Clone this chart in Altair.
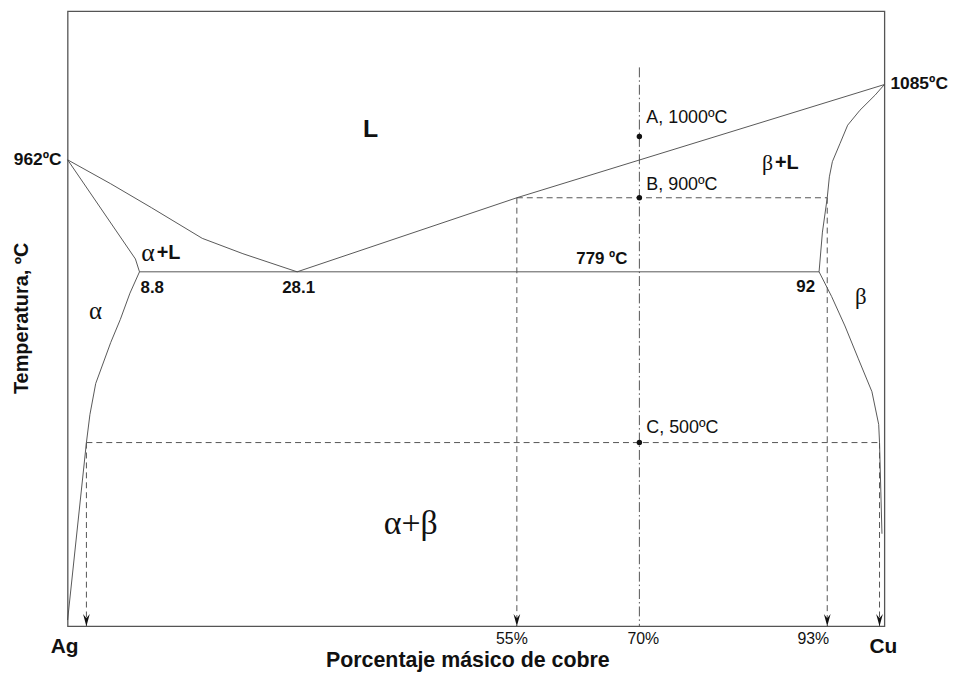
import altair as alt
import pandas as pd

# ---------------- data (x = % Cu by mass, T = degrees C) ----------------
alpha_solidus_x = [0, 8.3, 8.8]
alpha_solidus_T = [962, 800, 779]

liquidus_left_x = [0, 5.27, 10.25, 16.48, 21.46, 28.1]
liquidus_left_T = [962, 922.9, 883.9, 833.7, 808.6, 779]

liquidus_right_x = [28.1, 55, 100]
liquidus_right_T = [779, 900, 1085]

beta_solidus_x = [92, 92.41, 93, 93.26, 93.63, 94.57, 95.5, 97.0, 98.88, 100]
beta_solidus_T = [779, 843.9, 900, 934.2, 959, 988.9, 1018.6, 1043, 1068, 1085]

alpha_solvus_x = [8.8, 7.63, 6.45, 5.28, 3.44, 2.73, 2.3, 0]
alpha_solvus_T = [779, 744.1, 701.1, 663.6, 596.5, 545.7, 500, 210]

beta_solvus_x = [92, 93.53, 95.17, 96.81, 98.47, 99.3, 99.4, 99.7]
beta_solvus_T = [779, 738.8, 690.5, 636.8, 583.2, 529.6, 500, 351]

eutectic_x = [8.8, 92]
eutectic_T = [779, 779]

# dashed construction lines (start, end)
dashed_x = [[55, 93], [55, 55], [93, 93], [2.3, 99.4], [2.3, 2.3], [99.4, 99.4]]
dashed_T = [[900, 900], [900, 200], [900, 200], [500, 500], [500, 200], [500, 200]]

# dash-dot composition line at 70 % Cu
dashdot_x = [70, 70]
dashdot_T = [1113, 200]

arrow_x = [2.3, 55, 93, 99.4]
arrow_T = [200, 200, 200, 200]

point_x = [70, 70, 70]
point_T = [1000, 900, 500]
point_lbl = ["A, 1000ºC", "B, 900ºC", "C, 500ºC"]

X_DOMAIN = [0, 100]
T_DOMAIN = [200, 1205]

# ---------------- build ----------------
curves = []
for name, xs, ts in [
    ("alpha_solidus", alpha_solidus_x, alpha_solidus_T),
    ("liq_left", liquidus_left_x, liquidus_left_T),
    ("liq_right", liquidus_right_x, liquidus_right_T),
    ("beta_solidus", beta_solidus_x, beta_solidus_T),
    ("alpha_solvus", alpha_solvus_x, alpha_solvus_T),
    ("beta_solvus", beta_solvus_x, beta_solvus_T),
    ("eutectic", eutectic_x, eutectic_T),
]:
    for i, (x, t) in enumerate(zip(xs, ts)):
        curves.append({"x": x, "T": t, "c": name, "o": i})
curves_df = pd.DataFrame(curves)

dash_rows = []
for k, (xs, ts) in enumerate(zip(dashed_x, dashed_T)):
    for i, (x, t) in enumerate(zip(xs, ts)):
        dash_rows.append({"x": x, "T": t, "c": f"d{k}", "o": i})
dash_df = pd.DataFrame(dash_rows)

dd_df = pd.DataFrame({"x": dashdot_x, "T": dashdot_T, "o": [0, 1]})
arrow_df = pd.DataFrame({"x": arrow_x, "T": arrow_T})
pts_df = pd.DataFrame({"x": point_x, "T": point_T, "t": point_lbl})

xs = alt.Scale(domain=X_DOMAIN, nice=False, zero=False)
ys = alt.Scale(domain=T_DOMAIN, nice=False, zero=False)
X = alt.X("x:Q", scale=xs, axis=None)
Y = alt.Y("T:Q", scale=ys, axis=None)

SANS = "Liberation Sans, Arial, sans-serif"
SERIF = "Liberation Serif, Times New Roman, serif"

base_curves = alt.Chart(curves_df).mark_line(color="#444", strokeWidth=0.9).encode(
    x=X, y=Y, detail="c:N", order="o:Q")

dashed = alt.Chart(dash_df).mark_line(color="#555", strokeWidth=1, strokeDash=[6, 4]).encode(
    x=X, y=Y, detail="c:N", order="o:Q")

dashdot = alt.Chart(dd_df).mark_line(color="#555", strokeWidth=1, strokeDash=[10, 3, 1.5, 3]).encode(
    x=X, y=Y, order="o:Q")

arrows = alt.Chart(arrow_df).mark_point(
    shape="M-0.55,-2L0,0L0.55,-2L0,-1.3Z", size=150, filled=True, color="#111", opacity=1
).encode(x=X, y=Y)

dots = alt.Chart(pts_df).mark_circle(size=30, color="#111", opacity=1).encode(x=X, y=Y)


def label(text, x, T, size=17, weight="normal", font=SANS, align="center",
          baseline="middle", dx=0, dy=0, angle=0):
    return alt.Chart(pd.DataFrame({"x": [x], "T": [T], "t": [text]})).mark_text(
        fontSize=size, fontWeight=weight, font=font, align=align, baseline=baseline,
        dx=dx, dy=dy, angle=angle, color="#111"
    ).encode(x=X, y=Y, text="t:N")


labels = [
    label(point_lbl[0], 70, 1000, size=18, align="left", dx=7, dy=-19),
    label(point_lbl[1], 70, 900, size=18, align="left", dx=7, dy=-13),
    label(point_lbl[2], 70, 500, size=18, align="left", dx=7, dy=-15),
    label("962ºC", 0, 962, size=17.5, weight="bold", align="right", dx=-6),
    label("1085ºC", 100, 1085, size=17.5, weight="bold", align="left", dx=6, dy=-1),
    label("779 ºC", 70, 779, size=17, weight="bold", align="right", dx=-12, dy=-13),
    label("8.8", 8.8, 779, size=17, weight="bold", align="left", dx=1, dy=16),
    label("28.1", 28.1, 779, size=17, weight="bold", align="left", dx=-15, dy=16),
    label("92", 92, 779, size=17, weight="bold", align="right", dx=-4, dy=15),
    label("L", 37.1, 1012, size=25, weight="bold"),
    label("α", 9.0, 809, size=26, font=SERIF, align="left"),
    label("+L", 10.9, 809, size=20, weight="bold", align="left"),
    label("β", 85.0, 956, size=22, font=SERIF, align="left"),
    label("+L", 86.6, 956, size=20, weight="bold", align="left"),
    label("α", 3.4, 715, size=25, font=SERIF),
    label("β", 97.1, 737, size=23, font=SERIF),
    label("α+β", 42.0, 367, size=34, font=SERIF),
    label("Ag", 0, 200, size=21, weight="bold", dx=-3, dy=21),
    label("Cu", 100, 200, size=21, weight="bold", dx=-1, dy=21),
    label("55%", 55, 200, size=16, dx=-5, dy=13),
    label("70%", 70, 200, size=16, dx=4, dy=13),
    label("93%", 93, 200, size=16, dx=-14, dy=13),
    label("Porcentaje másico de cobre", 49, 200, size=21.5, weight="bold", dy=35),
    label("Temperatura, ºC", -5.6, 703, size=20, weight="bold", angle=270),
]

chart = alt.layer(base_curves, dashed, dashdot, arrows, dots, *labels).properties(
    width=822, height=619,
    autosize=alt.AutoSizeParams(type="none"),
    padding={"left": 60, "top": 1, "right": 66, "bottom": 44},
    background="white",
).configure_view(stroke="#555", strokeWidth=1.3)

chart.save("out.html", embed_options={"renderer": "svg", "actions": False})
